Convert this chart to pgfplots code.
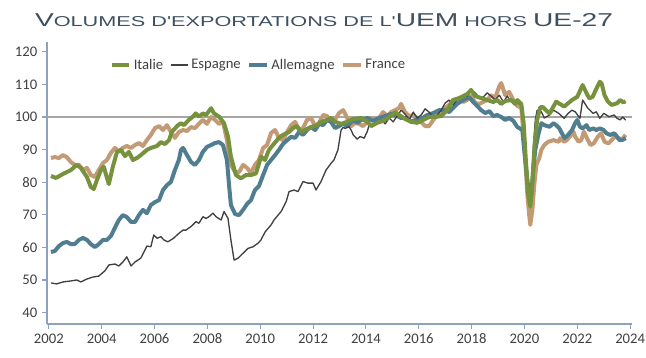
\documentclass[border=0pt]{standalone}
\usepackage{fontspec}
\setmainfont{Carlito}
\newfontfamily\titlefont{Liberation Sans}
\usepackage{graphicx}
\usepackage{pgfplots}
\pgfplotsset{compat=1.18}
\definecolor{cIt}{RGB}{118,146,60}
\definecolor{cEs}{RGB}{64,64,64}
\definecolor{cAl}{RGB}{80,126,144}
\definecolor{cFr}{RGB}{196,154,116}
\definecolor{cAxis}{RGB}{142,162,192}
\definecolor{cTitle}{RGB}{62,80,96}
\definecolor{cText}{RGB}{64,64,64}
\definecolor{cRef}{RGB}{166,166,166}
\newcommand\bc[1]{{\fontsize{13}{13}\selectfont #1}}

\begin{document}
\begin{tikzpicture}[x=1pt,y=1pt]
\path[use as bounding box] (0,0) rectangle (484.5,267.75);
\node[anchor=base, text=cTitle, inner sep=0pt] at (243,247.5)
 {\resizebox{433.5pt}{9.75pt}{\titlefont\fontsize{10}{10}\selectfont \bc{V}OLUMES D'EXPORTATIONS DE L'\bc{UEM} HORS \bc{UE-27}}};
\begin{axis}[
 at={(35.25pt,24.75pt)}, anchor=south west, scale only axis,
 width=438.75pt, height=211.5pt,
 xmin=2001.93, xmax=2024.07, ymin=36.5, ymax=123,
 axis x line=bottom, axis y line=left,
 axis line style={cAxis, line width=1.2pt, -},
 xtick={2002,2004,...,2024}, ytick={40,50,...,120},
 tick align=outside, tick style={cAxis, line width=0.8pt},
 major tick length=3.75pt,
 /pgf/number format/1000 sep={},
 /pgf/number format/assume math mode=true,
 ticklabel style={font=\fontsize{11}{13}\selectfont, text=cText},
 legend style={at={(0.1,0.918)}, anchor=west, draw=none, fill=none,
   font=\fontsize{11}{13}\selectfont, text=cText,
   /tikz/every even column/.append style={column sep=3pt}},
 legend columns=-1,
 legend image code/.code={\draw[#1, line cap=butt] (0pt,0pt) -- (13pt,0pt);},
 every axis plot/.append style={line join=round},
]
\addlegendimage{cIt, line width=3pt}\addlegendentry{Italie}
\addlegendimage{cEs, line width=1pt}\addlegendentry{Espagne}
\addlegendimage{cAl, line width=3pt}\addlegendentry{Allemagne}
\addlegendimage{cFr, line width=3pt}\addlegendentry{France}

\addplot[cRef, line width=1.5pt, forget plot] coordinates {(2001.93,100) (2024.07,100)};

% France
\addplot[cFr, line width=3pt, forget plot] table {
2002.08 87.4
2002.23 87.7
2002.38 87.4
2002.53 88.3
2002.68 87.7
2002.83 86.2
2002.98 85.3
2003.14 85.3
2003.29 83.7
2003.44 84.4
2003.59 82.2
2003.74 81.6
2003.89 83.7
2004.05 85.9
2004.20 86.8
2004.35 89.0
2004.50 90.5
2004.65 89.3
2004.80 90.5
2004.95 91.1
2005.11 90.5
2005.26 91.4
2005.41 92.0
2005.56 91.1
2005.71 92.9
2005.86 94.5
2006.02 96.6
2006.17 97.2
2006.32 96.0
2006.47 97.5
2006.62 95.4
2006.77 93.6
2006.92 95.4
2007.08 96.0
2007.23 95.7
2007.38 96.9
2007.53 96.6
2007.68 97.9
2007.83 99.1
2007.98 97.9
2008.14 100.0
2008.29 99.1
2008.44 97.9
2008.59 98.5
2008.74 92.9
2008.82 88.3
2008.89 85.3
2009.05 83.1
2009.20 83.1
2009.35 85.3
2009.50 84.4
2009.65 82.8
2009.80 85.3
2009.95 86.8
2010.11 90.5
2010.26 91.4
2010.41 95.1
2010.56 96.0
2010.71 93.6
2010.86 92.9
2011.02 95.4
2011.17 97.5
2011.32 98.5
2011.47 96.0
2011.62 96.6
2011.77 99.1
2011.92 99.7
2012.08 97.2
2012.23 98.2
2012.38 100.6
2012.53 100.3
2012.68 98.5
2012.83 99.1
2012.98 101.2
2013.14 102.1
2013.29 99.7
2013.44 97.2
2013.59 98.2
2013.74 97.9
2013.89 97.2
2014.05 98.5
2014.20 99.7
2014.35 99.1
2014.50 99.7
2014.65 101.5
2014.80 100.3
2014.95 101.5
2015.11 102.1
2015.26 102.8
2015.33 104.0
2015.48 101.5
2015.64 100.3
2015.79 100.6
2015.94 99.7
2016.09 98.5
2016.24 97.2
2016.39 97.2
2016.55 99.1
2016.70 100.6
2016.85 100.6
2017.00 102.8
2017.15 103.7
2017.30 105.2
2017.53 105.8
2017.68 104.6
2017.83 105.2
2017.98 106.4
2018.14 104.3
2018.29 104.0
2018.44 104.6
2018.59 105.2
2018.74 106.7
2018.89 105.8
2019.05 109.5
2019.12 110.4
2019.27 106.7
2019.42 107.7
2019.58 105.2
2019.73 103.4
2019.88 102.8
2019.95 96.0
2020.03 86.8
2020.11 76.1
2020.18 69.9
2020.22 66.9
2020.30 71.5
2020.37 79.1
2020.45 85.3
2020.56 87.4
2020.64 89.9
2020.75 91.4
2020.90 92.4
2021.10 92.9
2021.30 92.4
2021.35 93.5
2021.50 92.4
2021.60 92.9
2021.72 94.0
2021.85 95.5
2021.92 94.0
2022.05 92.4
2022.15 92.9
2022.25 95.5
2022.40 92.9
2022.50 91.4
2022.62 91.9
2022.78 94.0
2022.90 95.0
2023.03 92.4
2023.18 91.9
2023.30 92.9
2023.42 94.0
2023.55 93.5
2023.70 93.2
2023.83 94.5
};

% Allemagne
\addplot[cAl, line width=3pt, forget plot] table {
2002.08 58.6
2002.23 58.9
2002.38 60.4
2002.53 61.3
2002.68 61.7
2002.83 61.0
2002.98 61.0
2003.14 62.3
2003.29 62.9
2003.44 62.3
2003.59 61.0
2003.74 60.1
2003.89 61.0
2004.05 62.3
2004.20 62.3
2004.35 63.5
2004.50 66.0
2004.65 68.4
2004.80 69.9
2004.95 69.3
2005.11 67.8
2005.26 67.8
2005.41 69.9
2005.56 71.5
2005.71 70.5
2005.86 73.0
2006.02 73.9
2006.17 74.5
2006.32 77.6
2006.47 79.1
2006.62 80.1
2006.77 83.7
2006.92 86.8
2007.00 89.9
2007.08 90.5
2007.23 88.3
2007.38 86.2
2007.53 85.3
2007.68 86.8
2007.83 89.3
2007.98 90.8
2008.14 91.4
2008.29 92.0
2008.44 92.3
2008.59 91.4
2008.74 86.8
2008.82 79.1
2008.89 73.0
2009.05 70.2
2009.20 69.9
2009.35 71.5
2009.50 73.3
2009.65 74.5
2009.80 77.6
2009.95 78.8
2010.11 82.2
2010.26 85.3
2010.41 86.8
2010.56 88.3
2010.71 89.9
2010.86 91.7
2011.02 92.9
2011.17 93.9
2011.32 93.6
2011.47 95.4
2011.62 94.5
2011.77 96.0
2011.92 96.9
2012.08 96.0
2012.23 97.9
2012.38 97.5
2012.53 99.1
2012.68 98.5
2012.83 96.6
2012.98 97.2
2013.14 97.9
2013.29 97.2
2013.52 99.1
2013.67 98.2
2013.82 99.1
2014.05 99.7
2014.27 98.8
2014.50 99.7
2014.73 100.3
2014.95 100.9
2015.18 100.3
2015.33 99.7
2015.56 99.7
2015.71 98.5
2015.86 99.1
2016.09 99.4
2016.32 100.6
2016.55 101.2
2016.77 102.1
2017.00 102.1
2017.15 101.5
2017.30 102.8
2017.45 104.0
2017.68 105.2
2017.91 106.1
2018.06 104.6
2018.21 103.4
2018.36 102.1
2018.52 101.2
2018.67 101.8
2018.82 100.3
2018.97 100.6
2019.12 100.0
2019.27 99.1
2019.42 99.7
2019.58 98.8
2019.73 96.9
2019.80 96.6
2019.92 96.0
2019.99 89.9
2020.11 80.7
2020.20 74.5
2020.26 76.0
2020.33 83.7
2020.41 89.9
2020.52 94.5
2020.64 98.1
2020.75 97.5
2020.95 97.0
2021.10 98.1
2021.20 97.5
2021.32 96.5
2021.45 94.5
2021.52 93.5
2021.65 94.5
2021.80 96.0
2021.92 98.1
2022.00 99.1
2022.10 97.0
2022.20 96.5
2022.35 97.5
2022.45 96.0
2022.60 96.5
2022.72 96.0
2022.85 96.5
2023.00 96.0
2023.10 95.0
2023.25 94.5
2023.40 95.0
2023.50 94.0
2023.60 92.9
2023.72 93.0
2023.83 93.5
};

% Espagne
\addplot[cEs, line width=1pt, forget plot] table {
2002.08 49.1
2002.30 48.8
2002.53 49.4
2002.83 49.7
2003.06 50.0
2003.21 49.4
2003.44 50.3
2003.67 50.9
2003.89 51.2
2004.12 52.8
2004.27 54.6
2004.50 54.9
2004.65 54.3
2004.80 55.5
2004.95 57.1
2005.11 54.3
2005.26 55.5
2005.48 56.7
2005.71 60.4
2005.86 60.2
2005.97 63.8
2006.10 62.8
2006.24 63.3
2006.35 62.3
2006.50 61.7
2006.62 62.3
2006.72 62.8
2006.92 64.3
2007.08 65.3
2007.19 65.3
2007.38 66.4
2007.57 67.9
2007.68 67.4
2007.83 69.4
2007.95 68.9
2008.06 69.4
2008.21 70.5
2008.33 69.4
2008.52 68.4
2008.63 71.0
2008.78 68.9
2008.89 62.3
2009.01 56.1
2009.16 56.7
2009.35 58.2
2009.54 59.7
2009.73 60.2
2009.92 61.3
2010.03 62.3
2010.18 64.7
2010.41 66.9
2010.52 68.4
2010.79 71.0
2010.98 74.0
2011.09 77.1
2011.28 77.6
2011.43 77.1
2011.62 80.2
2011.81 79.7
2012.00 79.7
2012.11 77.6
2012.30 80.2
2012.49 83.7
2012.68 85.8
2012.79 86.8
2012.94 89.9
2013.06 96.0
2013.14 96.8
2013.21 96.5
2013.36 97.0
2013.44 96.0
2013.52 94.5
2013.67 93.2
2013.78 94.0
2013.93 93.5
2014.05 95.5
2014.12 97.5
2014.27 97.2
2014.42 97.9
2014.58 99.1
2014.73 97.9
2014.88 99.7
2015.03 98.5
2015.18 100.3
2015.33 102.1
2015.48 100.9
2015.64 99.1
2015.79 101.5
2015.94 99.7
2016.09 100.6
2016.24 102.5
2016.39 101.5
2016.55 99.7
2016.70 100.6
2016.85 102.1
2017.00 104.3
2017.15 105.2
2017.30 103.7
2017.45 105.2
2017.68 106.4
2017.83 106.4
2017.98 108.0
2018.14 107.4
2018.29 105.8
2018.44 106.1
2018.59 107.4
2018.74 106.4
2018.89 105.2
2019.05 106.7
2019.20 104.6
2019.35 106.4
2019.50 104.6
2019.65 104.9
2019.80 104.0
2019.92 103.4
2019.99 96.0
2020.11 82.2
2020.20 74.5
2020.26 77.6
2020.33 89.9
2020.41 99.1
2020.48 102.1
2020.64 101.6
2020.75 99.7
2020.95 100.6
2021.10 102.1
2021.30 101.1
2021.50 99.6
2021.65 101.1
2021.80 102.1
2021.92 101.6
2022.10 99.6
2022.20 105.2
2022.40 102.7
2022.60 101.1
2022.72 101.6
2022.85 99.6
2023.00 101.1
2023.20 100.1
2023.40 100.6
2023.50 99.6
2023.62 99.1
2023.72 100.0
2023.83 99.0
};

% Italie
\addplot[cIt, line width=3pt, forget plot] table {
2002.08 81.9
2002.27 81.3
2002.53 82.5
2002.83 83.7
2003.06 85.3
2003.21 84.4
2003.44 81.6
2003.59 78.5
2003.70 77.9
2003.82 80.7
2003.97 83.7
2004.08 84.7
2004.20 81.3
2004.27 79.4
2004.42 84.7
2004.58 89.3
2004.73 89.9
2004.88 88.0
2005.03 89.3
2005.18 86.8
2005.33 87.4
2005.48 88.3
2005.71 89.9
2005.86 90.5
2006.09 91.1
2006.24 92.3
2006.39 91.7
2006.55 92.9
2006.65 95.4
2006.89 97.5
2007.00 98.1
2007.11 97.5
2007.30 99.1
2007.45 100.1
2007.56 101.1
2007.68 100.1
2007.83 101.1
2007.95 100.6
2008.14 102.7
2008.25 101.1
2008.44 100.1
2008.63 98.1
2008.78 94.0
2008.89 87.8
2009.08 82.2
2009.27 81.2
2009.46 82.2
2009.65 82.2
2009.84 82.7
2010.03 87.8
2010.18 86.8
2010.33 89.9
2010.48 91.4
2010.71 93.6
2010.86 94.5
2011.09 95.4
2011.24 96.6
2011.39 97.2
2011.55 95.4
2011.70 96.0
2011.92 96.9
2012.15 97.5
2012.30 98.5
2012.53 99.1
2012.68 99.7
2012.83 98.5
2013.06 97.9
2013.29 98.5
2013.52 99.4
2013.82 99.7
2014.05 98.5
2014.20 97.2
2014.42 98.2
2014.65 98.8
2014.88 100.0
2015.11 101.5
2015.26 100.6
2015.48 99.4
2015.71 98.5
2015.94 98.2
2016.17 99.1
2016.39 100.0
2016.62 100.0
2016.85 100.3
2017.08 102.1
2017.30 105.2
2017.45 105.5
2017.68 106.4
2017.83 107.0
2017.98 108.3
2018.14 106.4
2018.36 105.8
2018.59 105.2
2018.82 104.6
2018.97 105.2
2019.12 104.0
2019.27 104.9
2019.50 105.2
2019.65 104.0
2019.73 105.2
2019.88 104.0
2019.97 98.0
2020.05 87.0
2020.13 77.0
2020.22 72.5
2020.30 80.0
2020.38 91.0
2020.48 99.1
2020.60 103.0
2020.70 103.0
2020.82 102.0
2020.95 101.1
2021.20 104.7
2021.30 104.2
2021.50 103.2
2021.80 105.2
2022.00 106.2
2022.20 109.8
2022.35 107.3
2022.45 105.7
2022.58 106.2
2022.70 108.3
2022.85 110.8
2022.92 110.3
2023.03 106.7
2023.16 104.7
2023.30 103.7
2023.50 104.2
2023.62 105.2
2023.74 104.5
2023.83 104.8
};
\end{axis}
\end{tikzpicture}
\end{document}
